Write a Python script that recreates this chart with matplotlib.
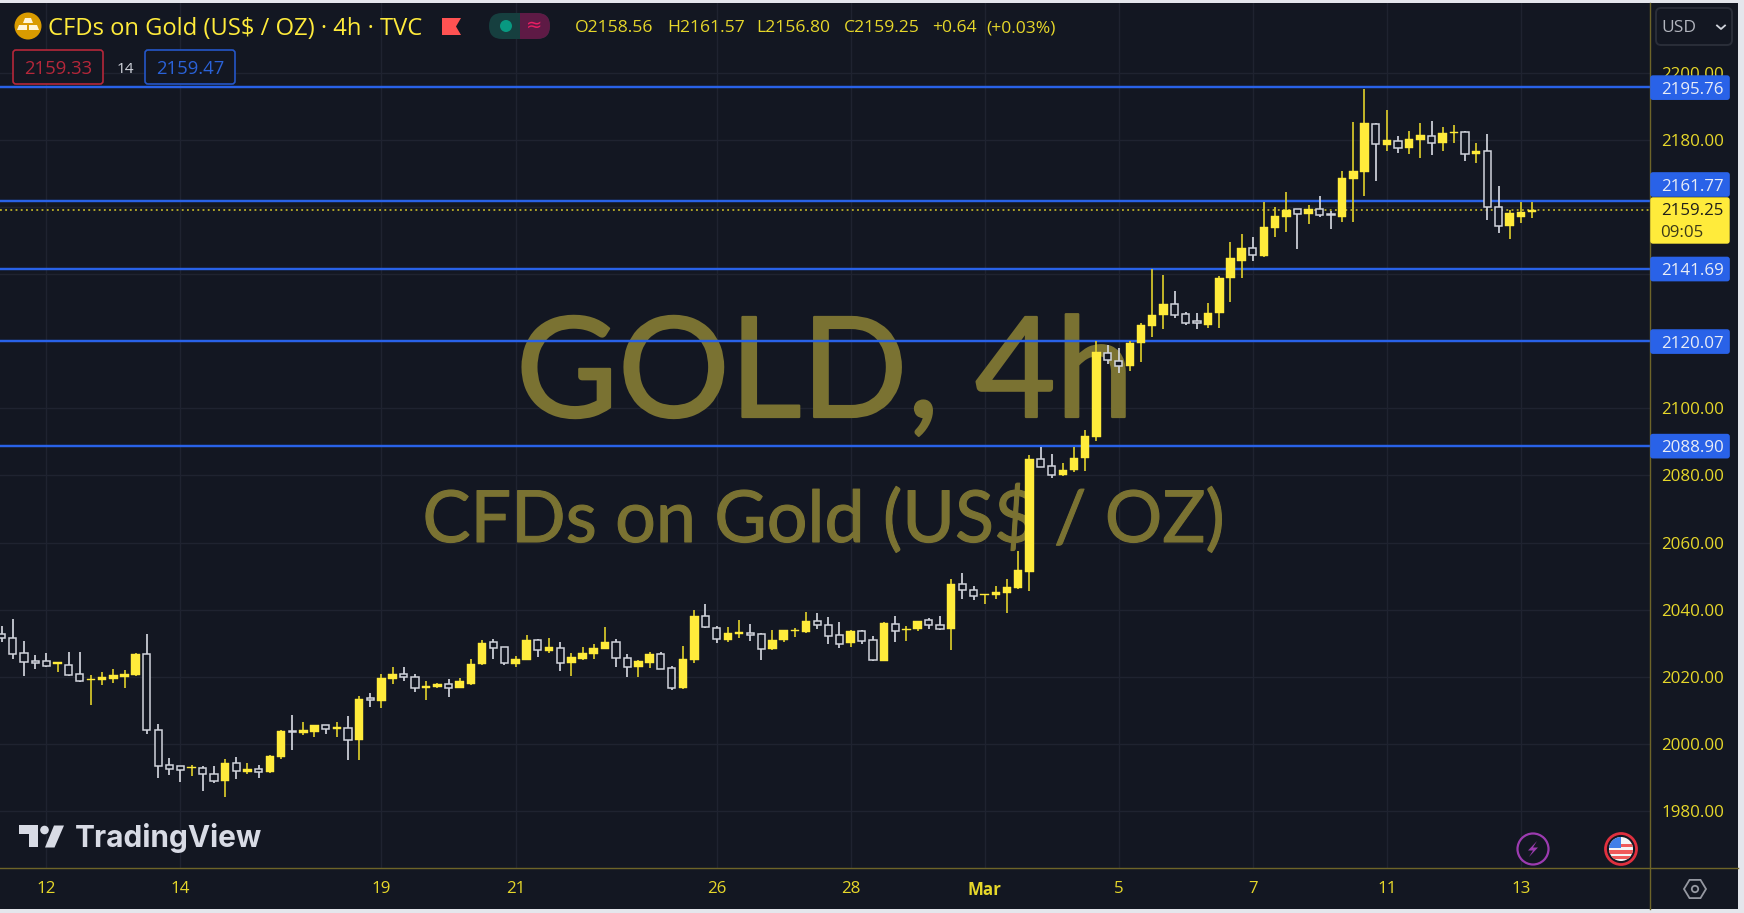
import numpy as np
import matplotlib
matplotlib.use("Agg")
import matplotlib.pyplot as plt
import matplotlib.patheffects as pe
from matplotlib.patches import Rectangle, FancyBboxPatch, Circle, Polygon

highs = [2035.2,2037.3,2030.6,2026.4,2027.1,2024.4,2027.5,2027.5,2020.4,2021.4,
2022.2,2021.9,2027.1,2032.8,2006.0,1995.8,1993.5,1993.8,1993.3,1993.3,
1995.5,1996.1,1994.3,1993.8,1996.8,2004.2,2008.5,2006.4,2005.5,2005.7,
2006.4,2008.2,2014.4,2015.2,2020.7,2022.9,2022.9,2020.7,2018.6,2018.2,
2019.3,2019.7,2025.3,2031.1,2031.4,2029.0,2026.3,2032.5,2031.4,2031.7,
2030.4,2027.1,2028.8,2029.9,2034.9,2031.3,2026.7,2025.1,2027.5,2027.5,
2023.1,2029.3,2039.8,2041.6,2035.2,2034.7,2037.0,2035.6,2033.1,2033.9,
2033.8,2034.5,2039.4,2039.1,2037.7,2036.3,2033.9,2033.9,2032.2,2036.2,
2038.0,2035.2,2036.5,2037.5,2038.0,2049.2,2050.9,2047.0,2044.8,2047.0,
2049.2,2057.6,2086.1,2088.6,2086.5,2083.6,2088.6,2093.5,2120.2,2118.9,
2117.9,2120.0,2125.6,2141.5,2139.8,2135.0,2128.6,2128.4,2131.5,2139.5,
2149.7,2152.1,2151.1,2161.4,2159.9,2164.6,2159.4,2160.7,2163.4,2158.9,
2170.8,2185.3,2195.2,2185.0,2188.8,2181.3,2182.8,2185.0,2185.6,2183.8,
2184.6,2182.8,2179.0,2181.8,2166.3,2159.1,2161.4,2161.57]

body_tops = [2032.8,2031.6,2027.1,2024.7,2024.6,2024.3,2023.5,2020.7,2019.4,2020.0,
2020.5,2020.8,2026.8,2026.7,2004.2,1993.6,1993.3,1993.0,1992.9,1991.1,
1994.3,1994.3,1992.6,1992.6,1996.5,2003.9,2003.9,2004.2,2005.5,2005.5,
2004.9,2004.8,2013.4,2013.6,2019.7,2020.7,2020.7,2020.0,2017.3,2018.0,
2017.9,2018.6,2023.9,2030.0,2030.3,2028.8,2025.3,2030.9,2030.9,2028.8,
2028.7,2026.0,2027.1,2028.5,2030.3,2030.3,2025.6,2024.7,2026.8,2026.7,
2022.6,2025.3,2038.0,2038.0,2034.5,2033.1,2033.3,2033.1,2032.8,2030.9,
2033.8,2034.0,2036.5,2036.5,2035.5,2032.4,2033.5,2033.5,2031.0,2035.9,
2035.8,2034.3,2036.5,2036.8,2035.5,2047.7,2047.7,2046.0,2044.8,2045.3,
2046.7,2051.9,2084.9,2084.9,2082.7,2081.7,2085.3,2091.7,2116.7,2116.5,
2114.2,2119.5,2124.8,2127.9,2131.0,2131.0,2128.0,2126.0,2128.3,2139.0,
2144.7,2147.9,2147.9,2154.2,2157.4,2159.1,2159.4,2159.5,2159.4,2157.8,
2168.7,2170.8,2185.0,2184.8,2180.0,2179.8,2180.2,2181.4,2181.3,2182.0,
2182.5,2182.4,2176.8,2176.7,2160.1,2158.1,2158.4,2159.25]

body_bottoms = [2031.6,2026.9,2024.4,2024.1,2023.3,2023.9,2020.5,2018.7,2019.0,2019.0,
2019.3,2020.0,2020.5,2004.0,1993.5,1992.5,1992.3,1992.7,1991.0,1988.9,
1988.9,1992.0,1991.5,1991.6,1991.6,1996.2,2003.6,2003.3,2003.6,2004.4,
2004.4,2001.2,2001.2,2013.2,2012.8,2019.3,2019.8,2016.7,2016.7,2017.0,
2016.8,2016.7,2018.0,2023.7,2028.6,2024.2,2023.8,2025.1,2028.1,2027.7,
2024.2,2024.2,2025.4,2026.9,2028.3,2025.5,2022.8,2022.8,2024.2,2022.4,
2016.7,2016.6,2025.1,2034.9,2031.2,2031.1,2032.8,2032.6,2028.3,2028.3,
2031.1,2033.6,2033.3,2035.3,2032.3,2029.7,2030.0,2030.8,2024.9,2024.8,
2033.7,2034.0,2034.3,2035.4,2034.3,2034.3,2045.8,2044.0,2044.5,2044.3,
2045.1,2046.4,2051.3,2082.4,2080.1,2080.2,2081.6,2085.1,2091.5,2114.4,
2112.7,2112.5,2119.4,2124.5,2127.8,2127.8,2125.4,2125.6,2125.0,2128.3,
2138.8,2144.0,2145.6,2145.4,2153.9,2157.1,2157.9,2157.9,2157.5,2157.5,
2157.1,2168.4,2170.4,2178.7,2178.6,2177.6,2177.6,2180.0,2179.0,2179.0,
2182.1,2175.9,2175.8,2160.1,2154.4,2154.3,2157.1,2158.56]

lows = [2030.3,2025.4,2020.1,2022.3,2022.9,2021.5,2020.1,2018.4,2011.7,2017.7,
2018.1,2016.6,2020.3,2002.9,1989.9,1990.8,1988.5,1990.5,1986.0,1988.4,
1984.2,1989.6,1990.9,1989.9,1991.3,1995.5,1998.3,2002.6,2002.1,2002.9,
2002.1,1995.1,1995.1,2010.9,2010.6,2018.0,2018.6,2015.5,2013.1,2016.6,
2014.1,2016.6,2017.7,2023.4,2025.4,2023.4,2023.0,2025.0,2025.8,2027.1,
2021.6,2020.2,2025.1,2025.4,2028.2,2023.0,2019.9,2019.9,2022.7,2022.2,
2016.0,2016.4,2024.2,2034.6,2030.0,2030.5,2031.7,2030.6,2025.1,2027.9,
2030.4,2032.0,2033.1,2034.2,2029.7,2028.6,2028.9,2029.7,2024.7,2024.6,
2030.3,2030.6,2033.5,2034.2,2033.9,2027.9,2043.2,2042.8,2041.7,2043.2,
2039.0,2046.1,2045.7,2082.4,2079.4,2079.7,2080.9,2081.2,2090.4,2113.2,
2110.4,2111.1,2113.9,2121.4,2123.8,2127.0,2124.9,2123.6,2124.1,2123.9,
2131.7,2138.8,2143.8,2145.0,2151.1,2152.7,2147.5,2155.1,2157.1,2153.4,
2155.6,2155.6,2163.4,2167.7,2176.8,2176.0,2175.8,2174.6,2175.4,2176.8,
2179.2,2173.6,2173.2,2156.1,2152.4,2150.4,2155.3,2156.80]

directions = ("WWWWWYWWYY" "YYYWWWWYWW" "YWYWYYWYYW" "YWYWYYWWYY" "WYYYWWYYWY"
              "WYYYYWWYYW" "WYYWWYYWWY" "YYYWWWYWWY" "WYYWWYWWYY" "YYYWWYYYYW"
              "WYYYYWWWYY" "YYWYYYWYWW" "YYYWYWYYWY" "YWYWWYYY")

levels = [2195.76, 2161.77, 2141.69, 2120.07, 2088.90]
last_price = 2159.25
price_ticks = list(range(1980, 2201, 20))
hidden_price_labels = [2120, 2140, 2160]
date_positions = [4, 16, 34, 46, 64, 76, 88, 100, 112, 124, 136]
date_labels = ["12", "14", "19", "21", "26", "28", "Mar", "5", "7", "11", "13"]

BG = "#131722"; GRID = "#1f2330"; AXIS = "#6e6428"; GOLD = "#e6d72a"
YEL = "#ffeb3b"; WICKY = "#d9c92a"; WHITE = "#d1d4dc"; BLUE = "#2962e8"; WM = "#7a7232"
FONT = ["Open Sans", "DejaVu Sans"]
plt.rcParams["font.family"] = FONT

W, H = 1744, 913
fig = plt.figure(figsize=(W/100, H/100), dpi=100, facecolor="#e4e6ec")
panel = FancyBboxPatch((0, (H-909)/H), 1738/W, 906/H, boxstyle="square,pad=0",
                       transform=fig.transFigure, facecolor=BG, edgecolor="none", zorder=-1)
fig.add_artist(panel)

top_px, bot_px, right_px = 3, 868.5, 1650
ax = fig.add_axes([0, (H-bot_px)/H, right_px/W, (bot_px-top_px)/H], facecolor=BG)
ax.set_xlim(-0.152, 147.56)
ax.set_ylim(1962.86, 2220.83)

x = np.arange(len(highs))
up = np.array([d == "Y" for d in directions])
hi, lo = np.array(highs), np.array(lows)
tp, bt = np.array(body_tops), np.array(body_bottoms)

ax.set_yticks(price_ticks)
ax.set_yticklabels(["" if p in hidden_price_labels else f"{p:.2f}" for p in price_ticks])
ax.yaxis.tick_right()
ax.set_xticks(date_positions)
ax.set_xticklabels(date_labels)
ax.tick_params(axis="both", length=0, colors=GOLD, labelsize=12.2)
ax.tick_params(axis="y", pad=8)
ax.tick_params(axis="x", pad=9)
ax.get_xticklabels()[6].set_fontweight("bold")
ax.grid(True, color=GRID, lw=1.0)
ax.set_axisbelow(True)
for s in ax.spines.values():
    s.set_visible(False)

for lv in levels:
    ax.axhline(lv, color=BLUE, lw=1.75, zorder=2)
ax.axhline(last_price, color=WICKY, lw=1.1, ls=(0, (1.2, 2.2)), zorder=2.1)

ax.vlines(x[up], lo[up], hi[up], color=WICKY, lw=1.25, zorder=3)
ax.vlines(x[~up], lo[~up], hi[~up], color=WHITE, lw=1.25, zorder=3)
ax.bar(x[up], tp[up]-bt[up], bottom=bt[up], width=0.76, color=YEL, edgecolor=YEL, lw=0.3, zorder=4)
ax.bar(x[~up], tp[~up]-bt[~up], bottom=bt[~up], width=0.64, facecolor=BG, edgecolor=WHITE, lw=1.1, zorder=4)

# overlay in pixel coordinates for the terminal chrome
ov = fig.add_axes([0, 0, 1, 1], facecolor="none")
ov.set_xlim(0, W); ov.set_ylim(H, 0); ov.axis("off")
ax.set_zorder(1); ov.set_zorder(2)

def wm(text, xc, base, size, stroke):
    t = ax.text(xc/right_px, (bot_px-base)/(bot_px-top_px), text, transform=ax.transAxes, fontsize=size,
                color=WM, family=["Lato", "DejaVu Sans"], ha="center", va="baseline", zorder=1.5)
    t.set_path_effects([pe.withStroke(linewidth=stroke, foreground=WM)])
wm("GOLD, 4h", 825, 417, 100.5, 1.6)
wm("CFDs on Gold (US$ / OZ)", 823, 542, 51.7, 0.8)

def T(x_, y_, s, size=12.2, color=GOLD, ha="left", va="center", **kw):
    dy = 2.2 if va == "center" else 0
    return ov.text(x_, y_ + dy, s, fontsize=size, color=color, ha=ha, va=va, **kw)

# axis lines
ov.plot([right_px, right_px], [3, 909], color=AXIS, lw=1.0)
ov.plot([0, 1738], [bot_px, bot_px], color=AXIS, lw=1.0)

# price labels
def price_y(p):
    return 140 + (2180 - p) * 3.355
def label(yc, s):
    ov.add_patch(FancyBboxPatch((right_px+1, yc-12.5+1), 78, 23, boxstyle="round,pad=0,rounding_size=2",
                                facecolor=BLUE, edgecolor=BLUE, lw=1.2, zorder=5))
    T(1661, yc, s, color="#e8ecf6", zorder=6)
for lv in levels:
    yc = price_y(lv) + 0.5
    if lv == 2161.77:
        yc = 184.5
    label(yc, f"{lv:.2f}")
ov.add_patch(FancyBboxPatch((right_px+1, 198), 78, 45, boxstyle="round,pad=0,rounding_size=2",
                            facecolor=YEL, edgecolor=YEL, lw=1, zorder=5))
T(1661, 209, "2159.25", color="#20201a", zorder=6)
T(1660, 231, "09:05", color="#3c3a18", zorder=6)

# USD box
ov.add_patch(FancyBboxPatch((1656, 8), 76, 37, boxstyle="round,pad=0,rounding_size=5",
                            facecolor=BG, edgecolor="#2a2e39", lw=1.4))
T(1661, 26, "USD", size=12.5, color="#b2b5be")
ov.plot([1717, 1721, 1725], [25.5, 29, 25.5], color="#d1d4dc", lw=1.3)

# header
ov.add_patch(Circle((28, 26), 13.5, facecolor="#d99b00", edgecolor="none"))
ov.add_patch(Polygon([[25, 18], [31, 18], [33, 23], [23, 23]], facecolor="#fff5d8"))
ov.add_patch(Polygon([[19, 25], [27, 25], [27, 30], [17, 30]], facecolor="#fff5d8"))
ov.add_patch(Polygon([[29, 25], [37, 25], [39, 30], [29, 30]], facecolor="#fff5d8"))
T(48, 27, "CFDs on Gold (US$ / OZ) · 4h · TVC", size=17.1, color="#ffeb3b")
ov.add_patch(Polygon([[442, 18], [461, 18], [456, 26.5], [461, 35], [442, 35]], facecolor="#ff5252"))
ov.add_patch(FancyBboxPatch((489, 13), 61, 26, boxstyle="round,pad=0,rounding_size=13",
                            facecolor="#163f3f", edgecolor="none"))
pink = FancyBboxPatch((489, 13), 61, 26, boxstyle="round,pad=0,rounding_size=13",
                      facecolor="#5e1a45", edgecolor="none")
ov.add_patch(pink)
pink.set_clip_path(Rectangle((520, 10), 40, 32, transform=ov.transData))
ov.add_patch(Circle((506, 26), 6, facecolor="#089981", edgecolor="none"))
T(534, 23, "≈", size=14, color="#e91e63", ha="center", family=["DejaVu Sans"])
for xp, s in [(575, "O2158.56"), (667, "H2161.57"), (756, "L2156.80"), (844, "C2159.25"),
              (932, "+0.64"), (986, "(+0.03%)")]:
    T(xp, 26, s, size=12.6, color=GOLD)
ov.add_patch(FancyBboxPatch((13, 50), 90, 34, boxstyle="round,pad=0,rounding_size=3",
                            facecolor=BG, edgecolor="#b5273a", lw=1.2))
T(58, 67, "2159.33", size=13.3, color="#b5273a", ha="center")
T(125, 67, "14", size=11, color="#d1d4dc", ha="center")
ov.add_patch(FancyBboxPatch((145, 50), 90, 34, boxstyle="round,pad=0,rounding_size=3",
                            facecolor=BG, edgecolor="#2456c8", lw=1.2))
T(190, 67, "2159.47", size=13.3, color="#2a62d8", ha="center")

# TradingView logo
LOGO = "#d8dbe5"
ov.add_patch(Polygon([[18.5, 825.5], [37.5, 825.5], [37.5, 847.5], [28.5, 847.5], [28.5, 834], [18.5, 834]], facecolor=LOGO))
ov.add_patch(Circle((44.5, 830), 4.3, facecolor=LOGO))
ov.add_patch(Polygon([[54, 825.5], [64, 825.5], [54.5, 847.5], [45, 847.5]], facecolor=LOGO))
T(75, 847, "TradingView", size=21.5, color=LOGO, va="baseline", family=["Inter", "DejaVu Sans"], fontweight="bold")

# event markers
ov.add_patch(Circle((1533, 849), 15.5, facecolor=BG, edgecolor="#9c3bb0", lw=1.6))
ov.add_patch(Polygon([[1537, 841], [1528, 850.5], [1533, 850.5], [1529, 857], [1538, 847.5], [1533, 847.5]], facecolor="#9c3bb0"))
ov.add_patch(Circle((1621, 849), 15.5, facecolor=BG, edgecolor="#e0303f", lw=2))
flag = Circle((1621, 849), 12, facecolor="#f5f5f5", edgecolor="none")
ov.add_patch(flag)
for yy in (845.5, 852, 857.5):
    r = Rectangle((1608, yy-1.5), 26, 3.2, facecolor="#f05a5a", edgecolor="none")
    ov.add_patch(r); r.set_clip_path(flag)
c = Rectangle((1608, 836), 13, 12, facecolor="#3f7fe8", edgecolor="none")
ov.add_patch(c); c.set_clip_path(flag)

# settings hexagon
ang = np.deg2rad(np.arange(0, 360, 60))
ov.add_patch(Polygon(np.c_[1695 + 11*np.cos(ang), 889 + 10.5*np.sin(ang)], facecolor="none", edgecolor="#9598a1", lw=1.3))
ov.add_patch(Circle((1695, 889), 3.2, facecolor="none", edgecolor="#9598a1", lw=1.3))

fig.savefig("out.png", dpi=100, facecolor=fig.get_facecolor())
